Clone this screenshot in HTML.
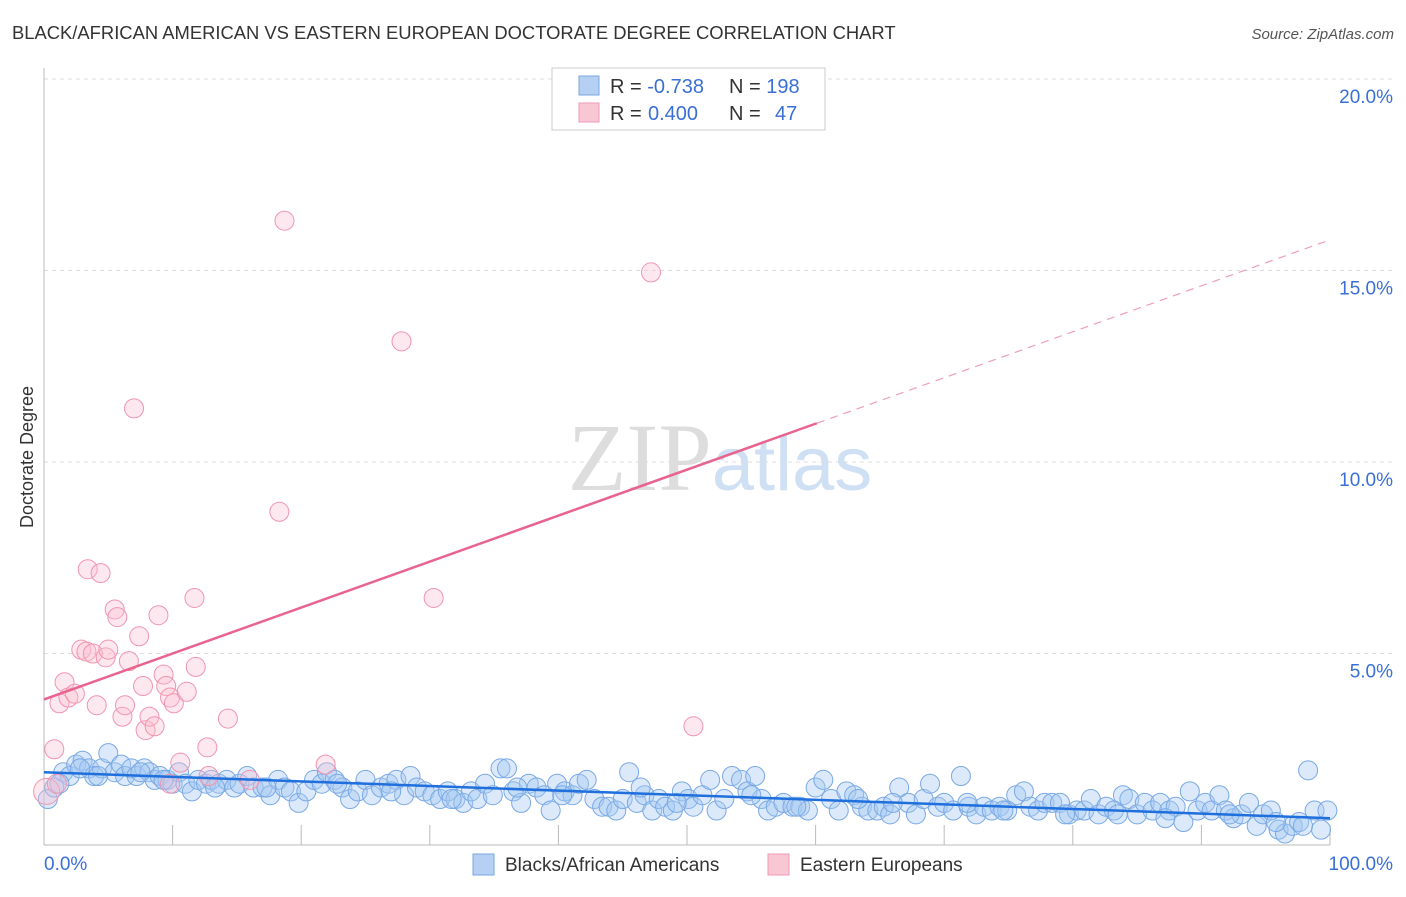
<!DOCTYPE html>
<html><head><meta charset="utf-8"><style>
body{margin:0;background:#fff;width:1406px;height:892px;overflow:hidden;font-family:"Liberation Sans",sans-serif}
</style></head><body>
<svg id="chart" width="1406" height="892" xmlns="http://www.w3.org/2000/svg" style="font-family:'Liberation Sans',sans-serif">
<text x="12" y="39" font-size="18.4" fill="#333">BLACK/AFRICAN AMERICAN VS EASTERN EUROPEAN DOCTORATE DEGREE CORRELATION CHART</text>
<text x="1394" y="39" font-size="15" fill="#555" text-anchor="end" font-style="italic">Source: ZipAtlas.com</text>
<text transform="translate(33,457) rotate(-90)" font-size="18" fill="#333" text-anchor="middle">Doctorate Degree</text>
<text x="720" y="490" font-size="96" fill="#ddd" text-anchor="middle" font-family="Liberation Serif,serif">ZIP<tspan fill="#cfe0f4" font-family="Liberation Sans,sans-serif" font-size="76">atlas</tspan></text>
<g id="grid"></g><g id="axes"></g><g id="pts"></g><g id="lines"></g>
<g>
<rect x="552" y="68" width="273" height="62" fill="#fff" stroke="#ccc"/>
<rect x="579" y="76" width="20" height="19" fill="#b5d0f3" stroke="#7aa7e0"/>
<rect x="579" y="103" width="20" height="19" fill="#f9c6d4" stroke="#ee9ab4"/>
<text x="610" y="93" font-size="20" fill="#333">R = <tspan fill="#3a6fd6">-0.738</tspan><tspan x="729">N = </tspan><tspan fill="#3a6fd6">198</tspan></text>
<text x="610" y="120" font-size="20" fill="#333">R = <tspan x="648" fill="#3a6fd6">0.400</tspan><tspan x="729">N = </tspan><tspan x="775" fill="#3a6fd6">47</tspan></text>
</g>
<g>
<rect x="473" y="854" width="21" height="21" fill="#b5d0f3" stroke="#7aa7e0"/>
<text x="505" y="871" font-size="19" fill="#333">Blacks/African Americans</text>
<rect x="768" y="854" width="21" height="21" fill="#f9c6d4" stroke="#ee9ab4"/>
<text x="800" y="871" font-size="19" fill="#333">Eastern Europeans</text>
</g>
</svg>
<script>
const yTicks=[5,10,15,20];
const blueX=[0.3,0.8,1.5,2,2.5,3,3.5,3.9,4.5,5,5.5,6,6.3,6.8,7.2,7.8,8.2,8.6,9,9.6,10,10.5,11,11.5,12,12.6,13,13.6,14.2,14.8,15.2,15.8,16.3,17,17.6,18.2,18.7,19.2,19.8,20.4,21,21.6,22,22.6,23.2,23.8,24.4,25,25.5,26.2,26.8,27.4,28,28.5,29,29.6,30.2,30.8,31.4,32,32.6,33.2,33.7,34.3,34.9,35.5,36,36.5,37.1,37.7,38.3,38.9,39.4,39.9,40.5,41.1,41.6,42.2,42.8,43.4,43.9,44.5,45,45.5,46.1,46.7,47.3,47.8,48.3,48.9,49.6,50.1,50.5,51.2,51.8,52.3,52.9,53.5,54.2,54.7,55.3,55.8,56.3,56.9,57.5,58.2,58.8,59.4,60,60.6,61.2,61.8,62.4,63,63.6,64.1,64.8,65.3,65.8,66.5,67.2,67.8,68.4,68.9,69.5,70,70.7,71.3,71.9,72.5,73.1,73.7,74.3,74.9,75.6,76.2,76.7,77.3,77.8,78.4,79,79.7,80.3,80.9,81.4,82,82.6,83.2,83.9,84.4,85,85.6,86.2,86.8,87.5,88,88.6,89.1,89.7,90.3,90.8,91.4,91.9,92.5,93.1,93.7,94.3,94.8,95.4,96,96.5,97.1,97.6,98.3,98.8,99.3,99.8,1.2,4.2,7.5,13.3,22.8,31.7,40.3,49.2,58.5,66,74.6,83.5,92.2,97.9,2.8,9.3,17.3,27,36.8,46.4,55,63.3,71.8,79.4,87.2,95.8];
const blueY=[1.2,1.5,1.9,1.8,2.1,2.2,2.0,1.8,2.0,2.4,1.9,2.1,1.8,2.0,1.8,2.0,1.9,1.7,1.8,1.7,1.6,1.9,1.6,1.4,1.7,1.6,1.7,1.6,1.7,1.5,1.6,1.8,1.5,1.5,1.3,1.7,1.5,1.4,1.1,1.4,1.7,1.6,1.9,1.7,1.5,1.2,1.4,1.7,1.3,1.5,1.6,1.7,1.3,1.8,1.5,1.4,1.3,1.2,1.4,1.2,1.1,1.4,1.2,1.6,1.3,2.0,2.0,1.4,1.1,1.6,1.5,1.3,0.9,1.6,1.4,1.3,1.6,1.7,1.2,1.0,1.0,0.9,1.2,1.9,1.1,1.3,0.9,1.2,1.0,0.9,1.4,1.2,1.0,1.3,1.7,0.9,1.2,1.8,1.7,1.4,1.8,1.2,0.9,1.0,1.1,1.0,1.0,0.9,1.5,1.7,1.2,0.9,1.4,1.3,1.0,0.9,0.9,1.0,0.8,1.5,1.1,0.8,1.2,1.6,1.0,1.1,0.9,1.8,1.0,0.8,1.0,0.9,1.0,0.9,1.3,1.4,1.0,0.9,1.1,1.1,1.1,0.8,0.9,0.9,1.2,0.8,1.0,0.9,1.3,1.2,0.8,1.1,0.9,1.1,0.9,1.0,0.6,1.4,0.9,1.1,0.9,1.3,0.9,0.7,0.8,1.1,0.5,0.8,0.9,0.4,0.3,0.5,0.6,1.95,0.9,0.4,0.9,1.6,1.8,1.9,1.5,1.6,1.2,1.3,1.1,1.0,1.1,0.9,0.8,0.8,0.5,2.0,1.7,1.5,1.4,1.5,1.5,1.3,1.2,1.1,0.8,0.7,0.6];
const pinkX=[0.2,0.8,1.0,1.6,1.2,1.9,2.4,2.9,3.3,3.4,3.8,4.1,4.4,4.8,5.0,5.5,5.7,6.1,6.3,6.6,7.0,7.4,7.7,7.9,8.2,8.6,8.9,9.3,9.5,9.8,10.1,10.6,11.1,11.7,11.8,12.7,12.8,14.3,16,18.3,18.7,21.9,27.8,30.3,47.2,50.5,9.8];
const pinkY=[1.4,2.5,1.6,4.25,3.7,3.85,3.95,5.1,5.05,7.2,5.0,3.65,7.1,4.9,5.1,6.15,5.95,3.35,3.65,4.8,11.4,5.45,4.15,3.0,3.35,3.1,6.0,4.45,4.15,3.85,3.7,2.15,4.0,6.45,4.65,2.55,1.8,3.3,1.7,8.7,16.3,2.1,13.15,6.45,14.95,3.1,1.6];
const blueFit=[1.9,0.7];
const pinkFit=[3.8,15.8];
const pinkSolidEnd=60.1;
const NS='http://www.w3.org/2000/svg';
const X0=44,X1=1330,Y0=845,PX=38.3;
const sx=v=>X0+(X1-X0)*v/100;
const sy=v=>Y0-v*PX;
function mk(t,a,p){const e=document.createElementNS(NS,t);for(const k in a)e.setAttribute(k,a[k]);p.appendChild(e);return e;}
const grid=document.getElementById('grid'),axes=document.getElementById('axes'),pts=document.getElementById('pts'),lines=document.getElementById('lines');
yTicks.forEach(t=>{
 const l=mk('line',{x1:X0,x2:1395,y1:sy(t),y2:sy(t),stroke:'#ddd','stroke-dasharray':'4,4'},grid);
 
 
 const tx=mk('text',{x:1393,y:sy(t)+24,'font-size':19,fill:'#3a6fd6','text-anchor':'end'},grid);
 tx.textContent=t.toFixed(1)+'%';
 
 
});
const ax=mk('line',{x1:X0,x2:X1,y1:Y0,y2:Y0,stroke:'#bbb'},axes);


const ay=mk('line',{x1:X0,x2:X0,y1:68,y2:Y0,stroke:'#bbb'},axes);


for(let i=1;i<=10;i++){const tk=mk('line',{x1:sx(i*10),x2:sx(i*10),y1:Y0,y2:Y0-20,stroke:'#bbb'},axes);
 
 }
const xl=mk('text',{x:44,y:870,'font-size':19,fill:'#3a6fd6'},axes);xl.textContent='0.0%';


const xr=mk('text',{x:1393,y:870,'font-size':19,fill:'#3a6fd6','text-anchor':'end'},axes);xr.textContent='100.0%';


blueX.forEach((x,i)=>{const c=mk('circle',{cx:sx(x),cy:sy(blueY[i]),r:9.5,fill:'rgba(165,200,242,0.4)',stroke:'#7aa9e4','stroke-width':1},pts);
 
 });
pinkX.forEach((x,i)=>{const c=mk('circle',{cx:sx(x),cy:sy(pinkY[i]),r:i==0?13:9.5,fill:'rgba(250,190,208,0.35)',stroke:'#f095b0','stroke-width':1},pts);
 
 });
const bl=mk('line',{x1:sx(0),y1:sy(blueFit[0]),x2:sx(100),y2:sy(blueFit[1]),stroke:'#1f6fdc','stroke-width':2.5},lines);


const pAt=x=>pinkFit[0]+(pinkFit[1]-pinkFit[0])*x/100;
const pl=mk('line',{x1:sx(0),y1:sy(pinkFit[0]),x2:sx(pinkSolidEnd),y2:sy(pAt(pinkSolidEnd)),stroke:'#e8648f','stroke-width':2.5},lines);


const pd=mk('line',{x1:sx(pinkSolidEnd),y1:sy(pAt(pinkSolidEnd)),x2:sx(100),y2:sy(pinkFit[1]),stroke:'#eea0b8','stroke-width':1.2,'stroke-dasharray':'8,6'},lines);


</script>
</body></html>
